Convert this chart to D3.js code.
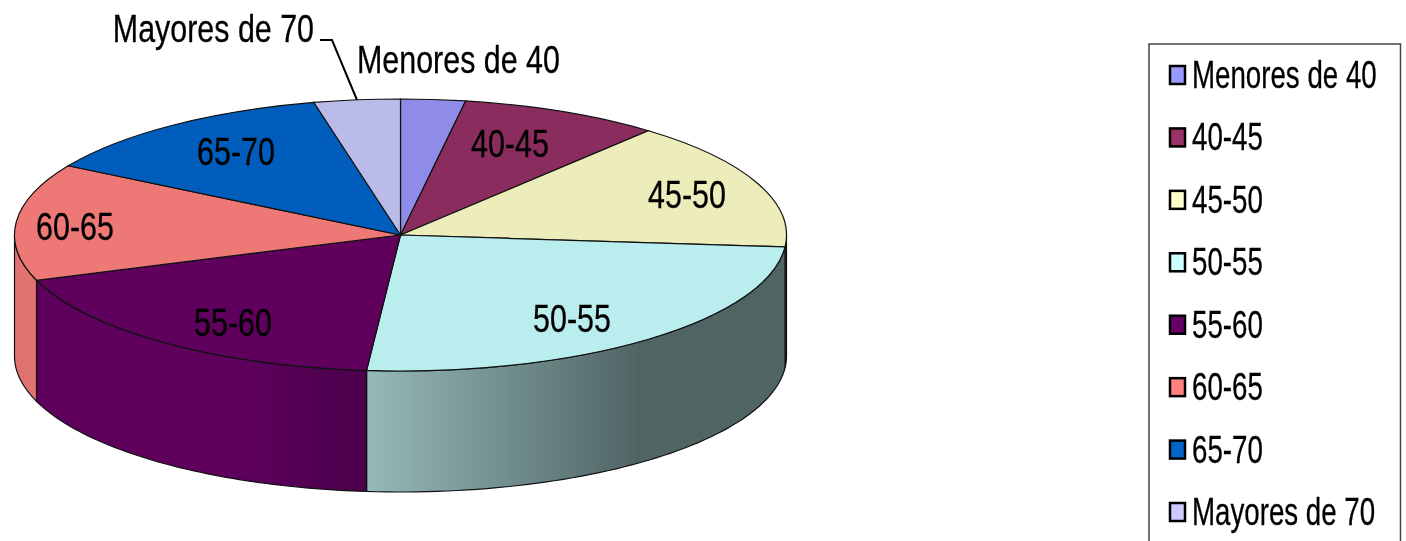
<!DOCTYPE html>
<html>
<head>
<meta charset="utf-8">
<script src="https://cdn.jsdelivr.net/npm/d3@7"></script>
<style>
html, body { margin: 0; padding: 0; background: #fff; overflow: hidden; }
svg { display: block; filter: blur(0.4px); }
text { font-family: "Liberation Sans", Arial, sans-serif; fill: #000; stroke: #000; stroke-width: 0.3px; }
</style>
</head>
<body>
<script>
// slices, clockwise from 12 o'clock (percent)
var categories = ["Menores de 40", "40-45", "45-50", "50-55", "55-60", "60-65", "65-70", "Mayores de 70"];
var shares = [2.7, 8.4, 15.3, 25.0, 18.2, 13.9, 12.9, 3.6];
var topColors = ["#8E8CE8", "#8A2C5E", "#EDEDBB", "#BAEDED", "#5E005C", "#EE7876", "#005DBB", "#BBBBEA"];
var legendColors = ["#9999FF", "#993366", "#FFFFCC", "#CCFFFF", "#660066", "#FF8080", "#0066CC", "#CCCCFF"];

var width = 1406, height = 541;
var cx = 400.5, cy = 235, rx = 386, ry = 136, depth = 121;

var svg = d3.select("body").append("svg")
    .attr("width", width)
    .attr("height", height);

var defs = svg.append("defs");

// side wall shading, the colours change along x
function wallGradient(id, x1, x2, stops) {
    var g = defs.append("linearGradient")
        .attr("id", id)
        .attr("gradientUnits", "userSpaceOnUse")
        .attr("x1", x1).attr("x2", x2)
        .attr("y1", 0).attr("y2", 0);
    stops.forEach(function(s) {
        g.append("stop").attr("offset", s[0]).attr("stop-color", s[1]);
    });
}
wallGradient("wall50", 368, 640, [[0, "#95B8B8"], [0.5, "#738F8F"], [1, "#506464"]]);
wallGradient("wall55", 35, 368, [[0, "#5E005C"], [0.6, "#5E005C"], [1, "#4B004B"]]);

var wallFill = {"45-50": "#506464", "50-55": "url(#wall50)", "55-60": "url(#wall55)", "60-65": "#E0736F"};

var pie = d3.pie().sort(null).value(function(d) { return d; });
var slices = pie(shares);

// unit circle -> squashed ellipse
var xScale = d3.scaleLinear().domain([-1, 1]).range([cx - rx, cx + rx]);
var yScale = d3.scaleLinear().domain([-1, 1]).range([cy - ry, cy + ry]);
function ex(a) { return xScale(Math.sin(a)); }
function ey(a) { return yScale(-Math.cos(a)); }

var line = d3.line();

// only the front half of the rim has a visible wall
function wallPath(d) {
    var a0 = Math.max(d.startAngle, Math.PI / 2);
    var a1 = Math.min(d.endAngle, Math.PI * 3 / 2);
    if (a1 <= a0) return null;
    var angles = d3.range(0, 61).map(function(i) { return a0 + (a1 - a0) * i / 60; });
    var pts = angles.map(function(a) { return [ex(a), ey(a)]; })
        .concat(angles.slice().reverse().map(function(a) { return [ex(a), ey(a) + depth]; }));
    return line(pts) + "Z";
}

svg.append("g").selectAll("path")
    .data(slices)
    .enter()
    .append("path")
    .attr("d", wallPath)
    .style("fill", function(d, i) { return wallFill[categories[i]] || topColors[i]; })
    .style("stroke", "#111")
    .style("stroke-width", 1.2)
    .style("display", function(d) { return wallPath(d) ? null : "none"; });

var arc = d3.arc().innerRadius(0).outerRadius(rx);

svg.append("g")
    .attr("transform", "translate(" + cx + "," + cy + ") scale(1," + (ry / rx) + ")")
    .selectAll("path")
    .data(slices)
    .enter()
    .append("path")
    .attr("d", arc)
    .style("fill", function(d, i) { return topColors[i]; })
    .style("stroke", "#111")
    .style("stroke-width", 1.2)
    .attr("vector-effect", "non-scaling-stroke");

// condensed arial look of the original
function label(x, y, txt, size, sx, anchor) {
    svg.append("text")
        .attr("transform", "translate(" + x + "," + y + ") scale(" + sx + ",1)")
        .attr("text-anchor", anchor)
        .attr("font-size", size)
        .text(txt);
}

var labelSpots = {
    "40-45": [510, 157], "45-50": [687, 208], "50-55": [572, 332], "55-60": [233, 336],
    "60-65": [75, 240], "65-70": [236, 165]
};
categories.forEach(function(c) {
    if (labelSpots[c]) label(labelSpots[c][0], labelSpots[c][1], c, 39, 0.78, "middle");
});
label(314, 42, "Mayores de 70", 39, 0.78, "end");
label(357, 73, "Menores de 40", 39, 0.78, "start");

svg.append("path")
    .attr("d", line([[320, 40], [332, 40], [357, 100]]))
    .style("fill", "none")
    .style("stroke", "#000")
    .style("stroke-width", 2);

// legend, it runs off the bottom of the picture
svg.append("rect")
    .attr("x", 1149).attr("y", 44)
    .attr("width", 251.5).attr("height", 560)
    .style("fill", "#fff")
    .style("stroke", "#444")
    .style("stroke-width", 1.5);

var legendY = d3.scalePoint().domain(categories).range([75, 512]);

svg.selectAll("legendRect")
    .data(categories)
    .enter()
    .append("rect")
    .attr("class", "legendRect")
    .attr("x", 1170)
    .attr("y", function(d) { return legendY(d) - 9; })
    .attr("width", 15)
    .attr("height", 18)
    .style("fill", function(d, i) { return legendColors[i]; })
    .style("stroke", "#000")
    .style("stroke-width", 2.5);

categories.forEach(function(c) {
    label(1192, legendY(c) + 13, c, 39, 0.71, "start");
});
</script>
</body>
</html>
